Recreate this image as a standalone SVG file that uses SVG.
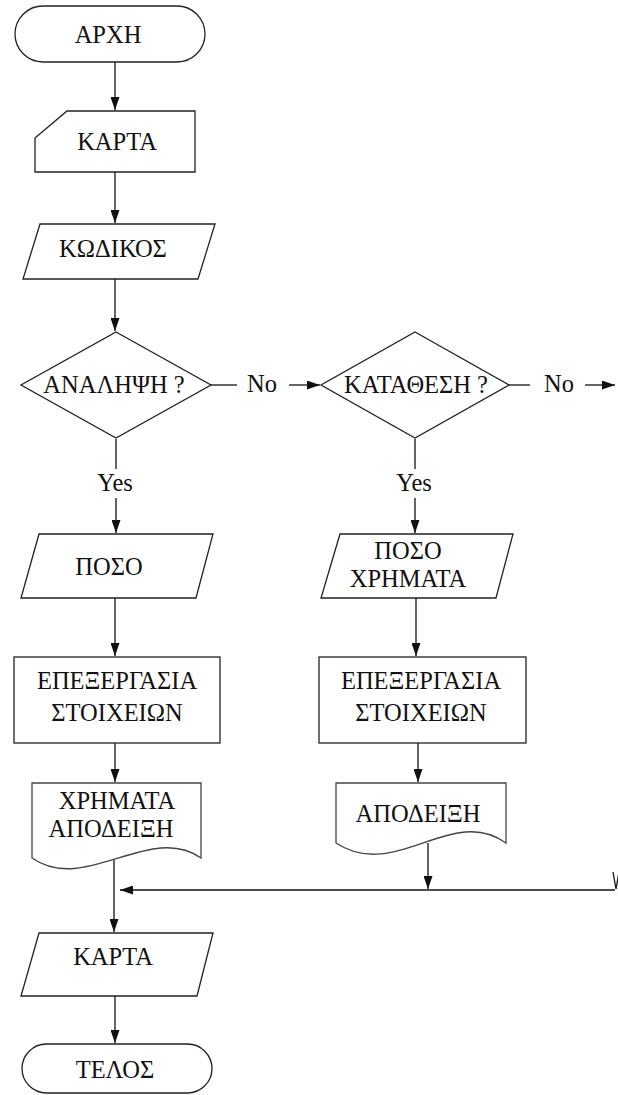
<svg xmlns="http://www.w3.org/2000/svg" width="618" height="1095" viewBox="0 0 618 1095">
<style>
.s{fill:#fff;stroke:#222;stroke-width:1.3}
.d{fill:#fff;stroke:#444;stroke-width:1.3}
.c{fill:none;stroke:#111;stroke-width:1.3}
text{font-family:"Liberation Serif","Times New Roman",serif;font-size:24.5px;fill:#111;text-anchor:middle}
</style>
<defs>
<marker id="ah" markerUnits="userSpaceOnUse" markerWidth="13" markerHeight="9" refX="13" refY="4.5" orient="auto">
<path d="M0,0 L13,4.5 L0,9 Z" fill="#111"/>
</marker>
</defs>
<rect width="618" height="1095" fill="#fff"/>
<g id="connectors">
<line class="c" x1="115" y1="62" x2="115" y2="110" marker-end="url(#ah)"/>
<line class="c" x1="115" y1="172" x2="115" y2="223" marker-end="url(#ah)"/>
<line class="c" x1="115" y1="279" x2="115" y2="331" marker-end="url(#ah)"/>
<line class="c" x1="210" y1="385" x2="237" y2="385"/>
<line class="c" x1="289" y1="385" x2="320" y2="385" marker-end="url(#ah)"/>
<line class="c" x1="509" y1="385" x2="530" y2="385"/>
<line class="c" x1="585" y1="385" x2="615" y2="385" marker-end="url(#ah)"/>
<line class="c" x1="116" y1="439" x2="116" y2="469"/>
<line class="c" x1="116" y1="498" x2="116" y2="533" marker-end="url(#ah)"/>
<line class="c" x1="415" y1="439" x2="415" y2="469"/>
<line class="c" x1="415" y1="498" x2="415" y2="533" marker-end="url(#ah)"/>
<line class="c" x1="115" y1="598" x2="115" y2="656" marker-end="url(#ah)"/>
<line class="c" x1="416" y1="598" x2="416" y2="656" marker-end="url(#ah)"/>
<line class="c" x1="115" y1="743" x2="115" y2="782" marker-end="url(#ah)"/>
<line class="c" x1="418" y1="743" x2="418" y2="782" marker-end="url(#ah)"/>
<line class="c" x1="428" y1="843" x2="428" y2="889" marker-end="url(#ah)"/>
<line class="c" x1="615" y1="890" x2="120" y2="890" marker-end="url(#ah)"/>
<line class="c" x1="114" y1="860" x2="114" y2="932" marker-end="url(#ah)"/>
<line class="c" x1="115" y1="996" x2="115" y2="1043" marker-end="url(#ah)"/>
<path class="c" d="M613,872 L616,889 L619,872"/>
<text x="262" y="392">No</text>
<text x="559" y="392">No</text>
<text x="115" y="491">Yes</text>
<text x="414" y="491">Yes</text>
</g>
<g id="start">
<rect class="s" x="15" y="6" width="190" height="56" rx="28"/>
<text x="108" y="43">ΑΡΧΗ</text>
</g>
<g id="card1">
<path class="s" d="M67,111 H195 V172 H35 V138 Z"/>
<text x="117" y="150">ΚΑΡΤΑ</text>
</g>
<g id="code">
<path class="s" d="M40,224 H215 L198,279 H23 Z"/>
<text x="113" y="257">ΚΩΔΙΚΟΣ</text>
</g>
<g id="withdraw">
<path class="s" d="M116,332 L211,385 L116,438 L21,385 Z"/>
<text x="114" y="393">ΑΝΑΛΗΨΗ ?</text>
</g>
<g id="deposit">
<path class="s" d="M415,332 L509,385 L415,438 L321,385 Z"/>
<text x="416" y="393">ΚΑΤΑΘΕΣΗ ?</text>
</g>
<g id="amount">
<path class="s" d="M39,534 H213 L196,598 H21 Z"/>
<text x="109" y="575">ΠΟΣΟ</text>
</g>
<g id="amount2">
<path class="s" d="M340,534 H513 L496,598 H321 Z"/>
<text x="408" y="559">ΠΟΣΟ</text>
<text x="408" y="587">ΧΡΗΜΑΤΑ</text>
</g>
<g id="process1">
<rect class="s" x="14" y="657" width="206" height="86"/>
<text x="117" y="689">ΕΠΕΞΕΡΓΑΣΙΑ</text>
<text x="117" y="721">ΣΤΟΙΧΕΙΩΝ</text>
</g>
<g id="process2">
<rect class="s" x="319" y="657" width="207" height="86"/>
<text x="421" y="689">ΕΠΕΞΕΡΓΑΣΙΑ</text>
<text x="421" y="721">ΣΤΟΙΧΕΙΩΝ</text>
</g>
<g id="doc1">
<path class="d" d="M32,783 H201 V858 C150,822 85,895 32,858 Z"/>
<text x="117" y="809">ΧΡΗΜΑΤΑ</text>
<text x="111" y="837">ΑΠΟΔΕΙΞΗ</text>
</g>
<g id="doc2">
<path class="d" d="M336,783 H506 V843 C452,804 395,882 336,843 Z"/>
<text x="418" y="822">ΑΠΟΔΕΙΞΗ</text>
</g>
<g id="card2">
<path class="s" d="M39,933 H213 L197,996 H21 Z"/>
<text x="113" y="965">ΚΑΡΤΑ</text>
</g>
<g id="end">
<rect class="s" x="22" y="1044" width="190" height="49" rx="24.5"/>
<text x="115" y="1078">ΤΕΛΟΣ</text>
</g>
</svg>
